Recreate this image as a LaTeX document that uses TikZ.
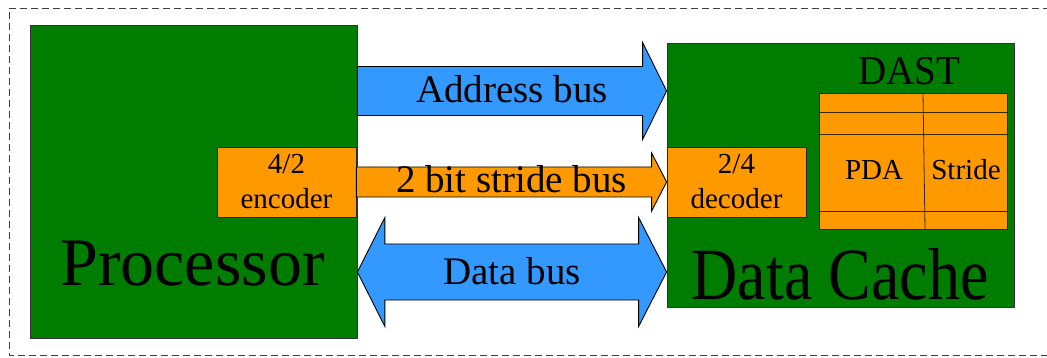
\documentclass[tikz,border=0pt]{standalone}
\usepackage{fontspec}
\setmainfont{Liberation Serif}
\usetikzlibrary{calc}
\definecolor{boxgreen}{RGB}{0,124,0}
\definecolor{busblue}{RGB}{51,153,255}
\definecolor{unitorange}{RGB}{255,153,0}
\definecolor{gridline}{RGB}{60,40,0}
\begin{document}
\begin{tikzpicture}[x=1pt,y=-1pt,
  block/.style={draw=black!80, line width=0.8pt, fill=boxgreen, inner sep=0pt},
  unit/.style={draw=black!85, line width=0.8pt, fill=unitorange, inner sep=0pt,
    align=center, font=\fontsize{29}{35}\selectfont},
  blue bus/.style={draw=black, line width=0.9pt, fill=busblue, line join=miter},
  orange bus/.style={draw=black, line width=0.9pt, fill=unitorange, line join=miter},
  buslabel/.style={inner sep=0pt, anchor=base, font=\fontsize{39}{39}\selectfont},
  cell/.style={inner sep=0pt, anchor=base, font=\fontsize{29}{29}\selectfont},
  tableline/.style={draw=gridline, line width=0.8pt},
  frame/.style={draw=black!75, line width=0.8pt, dash pattern=on 7pt off 4pt}]
\useasboundingbox (0,0) rectangle (1047,358);

% outer frame, open towards the right edge of the page
\draw[frame] (1050,8) -- (9,8) -- (9,355) -- (1050,355);

% main blocks
\node[block, minimum width=327pt, minimum height=313pt] (proc) at (193.5,181.5) {};
\node[block, minimum width=347pt, minimum height=264pt] (cache) at (840.5,175) {};

% encoder / decoder
\node[unit, minimum width=139pt, minimum height=70pt] (enc) at (286.5,182) {4/2\\encoder};
\node[unit, minimum width=139pt, minimum height=70pt] (dec) at (736.5,182) {2/4\\decoder};

% DAST table
\node[unit, minimum width=188pt, minimum height=136pt] (dast) at (913,161) {};
\draw[tableline] (dast.west |- 0,112) -- (dast.east |- 0,112);
\draw[tableline] (dast.west |- 0,134) -- (dast.east |- 0,134);
\draw[tableline] (dast.west |- 0,211) -- (dast.east |- 0,211);
\draw[tableline] (dast.north -| 923,0) -- (dast.south -| 925,0);
\node[cell] (pda) at (874,180) {PDA};
\node[cell] (stride) at (966,180) {Stride};
\node[inner sep=0pt, anchor=base, font=\fontsize{39}{39}\selectfont] (dastlabel) at (909.5,85)
  {\scalebox{1}[1.05]{DAST}};

% block titles
\node[inner sep=0pt, anchor=base, font=\fontsize{68}{68}\selectfont] (proclabel) at (192.5,285) {Processor};
\node[inner sep=0pt, anchor=base, font=\fontsize{64}{64}\selectfont] (cachelabel) at (840,299)
  {\scalebox{1}[1.15]{Data Cache}};

% address bus
\coordinate (ab-s) at (proc.east |- 0,91);
\coordinate (ab-t) at (cache.west |- 0,91);
\draw[blue bus] ($(ab-s)+(0,-24.5)$) -- ($(ab-t)+(-24,-24.5)$) -- ($(ab-t)+(-24,-48.5)$)
  -- (ab-t) -- ($(ab-t)+(-24,48.5)$) -- ($(ab-t)+(-24,24.5)$) -- ($(ab-s)+(0,24.5)$) -- cycle;
\node[buslabel] (ablabel) at ($($(ab-s)!0.5!(ab-t)$)+(0,12)$) {Address bus};

% stride bus
\draw[orange bus] ($(enc.east)+(0,-15)$) -- ($(dec.west)+(-15,-15)$) -- ($(dec.west)+(-15,-29)$)
  -- (dec.west) -- ($(dec.west)+(-15,29)$) -- ($(dec.west)+(-15,15)$) -- ($(enc.east)+(0,15)$) -- cycle;
\node[buslabel] (sblabel) at ($($(enc.east)!0.5!(dec.west)$)+(0,11)$) {2 bit stride bus};

% data bus
\coordinate (db-l) at (proc.east |- 0,272);
\coordinate (db-r) at (cache.west |- 0,272);
\draw[blue bus] ($(db-l)+(27.5,-28)$) -- ($(db-r)+(-28,-28)$) -- ($(db-r)+(-28,-54.5)$)
  -- (db-r) -- ($(db-r)+(-28,54.5)$) -- ($(db-r)+(-28,28)$) -- ($(db-l)+(27.5,28)$)
  -- ($(db-l)+(27.5,54.5)$) -- (db-l) -- ($(db-l)+(27.5,-54.5)$) -- cycle;
\node[buslabel] (dblabel) at ($($(db-l)!0.5!(db-r)$)+(0,12)$) {Data bus};
\end{tikzpicture}
\end{document}
